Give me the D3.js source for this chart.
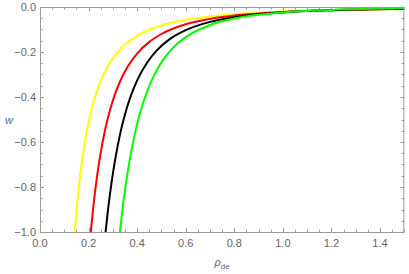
<!DOCTYPE html>
<html>
<head>
<meta charset="utf-8">
<script src="https://cdn.jsdelivr.net/npm/d3@7"></script>
<style>
  body { margin: 0; background: #fff; }
  svg { display: block; font-family: 'Liberation Sans', Arial, sans-serif; }
</style>
</head>
<body>
<svg id="chart"></svg>
<script>
// curve samples: [rho_de, w]
const yellowCurve = [[0.143,-1.0],[0.15,-0.909],[0.16,-0.799],[0.175,-0.668],[0.19,-0.566],[0.21,-0.464],[0.23,-0.387],[0.25,-0.327],[0.28,-0.261],[0.31,-0.213],[0.35,-0.167],[0.4,-0.128],[0.45,-0.101],[0.5,-0.082],[0.6,-0.057],[0.7,-0.042],[0.8,-0.032],[1.0,-0.020],[1.2,-0.014],[1.5,-0.009]]
const redCurve = [[0.209,-1.0],[0.22,-0.883],[0.235,-0.752],[0.25,-0.647],[0.27,-0.537],[0.29,-0.451],[0.31,-0.384],[0.33,-0.330],[0.36,-0.267],[0.4,-0.207],[0.45,-0.155],[0.5,-0.120],[0.6,-0.077],[0.7,-0.053],[0.8,-0.038],[1.0,-0.022],[1.2,-0.014],[1.5,-0.008]]
const blackCurve = [[0.27,-1.0],[0.28,-0.902],[0.295,-0.777],[0.31,-0.675],[0.33,-0.564],[0.35,-0.477],[0.375,-0.392],[0.4,-0.326],[0.44,-0.249],[0.48,-0.194],[0.53,-0.146],[0.6,-0.103],[0.7,-0.066],[0.8,-0.045],[1.0,-0.024],[1.2,-0.014],[1.5,-0.0075]]
const greenCurve = [[0.329,-1.0],[0.34,-0.896],[0.355,-0.775],[0.37,-0.675],[0.39,-0.566],[0.41,-0.478],[0.44,-0.378],[0.47,-0.303],[0.5,-0.246],[0.55,-0.179],[0.6,-0.134],[0.7,-0.080],[0.8,-0.051],[1.0,-0.024],[1.2,-0.013],[1.5,-0.006]]

const xTicks = [0, 0.2, 0.4, 0.6, 0.8, 1.0, 1.2, 1.4]
const yTicks = [-1.0, -0.8, -0.6, -0.4, -0.2, 0.0]

const series = [
  { pts: yellowCurve, color: '#ffff00' },
  { pts: redCurve, color: '#ff0000' },
  { pts: blackCurve, color: '#000000' },
  { pts: greenCurve, color: '#00ff00' },
]

const width = 409, height = 274
const margin = { left: 40, right: 5, top: 7, bottom: 42 }

const svg = d3.select('#chart').attr('width', width).attr('height', height)

const x = d3.scaleLinear().domain([0, 1.5]).range([margin.left, width - margin.right + 0.3])
const y = d3.scaleLinear().domain([-1, 0]).range([height - margin.bottom, margin.top])

const frameColor = '#999'
const labelColor = '#666'

// minor ticks every 0.05
const xMinor = d3.range(0, 1.5001, 0.05)
const yMinor = d3.range(-1, 0.0001, 0.05)

svg.append('defs').append('clipPath').attr('id', 'plot')
  .append('rect')
  .attr('x', x(0)).attr('y', y(0))
  .attr('width', x(1.5) - x(0)).attr('height', y(-1) - y(0))

// curves
const line = d3.line().x((d) => x(d[0])).y((d) => y(d[1])).curve(d3.curveMonotoneX)
svg.append('g').attr('clip-path', 'url(#plot)')
  .selectAll('path')
  .data(series)
  .join('path')
  .attr('d', (d) => line(d.pts))
  .attr('fill', 'none')
  .attr('stroke', (d) => d.color)
  .attr('stroke-width', 2)

// frame
const fr = svg.append('g').attr('stroke', frameColor).attr('stroke-width', 1).attr('fill', 'none')
fr.append('rect')
  .attr('x', x(0) + 0.5).attr('y', y(0) + 0.5)
  .attr('width', x(1.5) - x(0) - 1).attr('height', y(-1) - y(0))

const isMajor = (v) => Math.abs(v / 0.2 - Math.round(v / 0.2)) < 1e-6

// ticks on bottom and top
xMinor.forEach((v) => {
  const len = isMajor(v) ? 4 : 2.5
  const px = Math.round(x(v)) + 0.5
  fr.append('line').attr('x1', px).attr('x2', px).attr('y1', y(-1)).attr('y2', y(-1) - len)
  fr.append('line').attr('x1', px).attr('x2', px).attr('y1', y(0)).attr('y2', y(0) + len)
})
// ticks on left and right
yMinor.forEach((v) => {
  const len = isMajor(v) ? 4 : 2.5
  const py = Math.round(y(v)) + 0.5
  fr.append('line').attr('x1', x(0)).attr('x2', x(0) + len).attr('y1', py).attr('y2', py)
  fr.append('line').attr('x1', x(1.5)).attr('x2', x(1.5) - len).attr('y1', py).attr('y2', py)
})

// tick labels
svg.append('g')
  .selectAll('text')
  .data(xTicks)
  .join('text')
  .attr('x', (d) => x(d))
  .attr('y', y(-1) + 15)
  .attr('text-anchor', 'middle')
  .attr('font-size', 11)
  .attr('fill', labelColor)
  .text((d) => d3.format('.1f')(d))

svg.append('g')
  .selectAll('text')
  .data(yTicks)
  .join('text')
  .attr('x', x(0) - 4)
  .attr('y', (d) => y(d))
  .attr('dy', '0.35em')
  .attr('text-anchor', 'end')
  .attr('font-size', 11)
  .attr('fill', labelColor)
  .text((d) => d3.format('.1f')(d).replace('-', '\u2212'))

// axis labels
svg.append('text')
  .attr('x', 9)
  .attr('y', 124)
  .attr('text-anchor', 'middle')
  .attr('font-size', 11)
  .attr('font-style', 'italic')
  .attr('fill', labelColor)
  .text('w')

const xl = svg.append('text')
  .attr('x', 222)
  .attr('y', 266)
  .attr('text-anchor', 'middle')
  .attr('font-size', 11)
  .attr('fill', labelColor)
xl.append('tspan').attr('font-style', 'italic').text('ρ')
xl.append('tspan').attr('font-size', 8).attr('dy', 3).text('de')
</script>
</body>
</html>
